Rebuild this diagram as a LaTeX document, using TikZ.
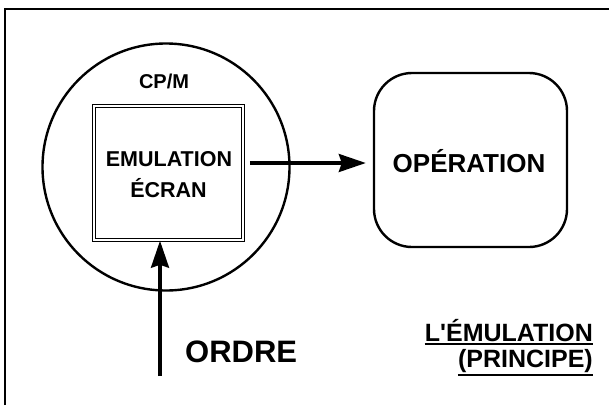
\documentclass[tikz,border=0pt]{standalone}
\usepackage{fontspec}
\setmainfont{Liberation Sans}
\newfontfamily\plainsans{Liberation Sans}
\usetikzlibrary{arrows.meta}
\begin{document}
\begin{tikzpicture}[x=1pt,y=-1pt,
  txt/.style={inner sep=0pt,font=\bfseries},
  conn/.style={line width=3.2pt,-{Stealth[length=27pt,width=18pt,inset=3pt]}},
  ul/.style={line width=2pt}]
\useasboundingbox (0,0) rectangle (609,405);
\fill[white] (0,0) rectangle (609,405);
\draw[line width=1.6pt] (5,405) -- (5,9) -- (609,9);
\node[circle,draw,line width=2.4pt,minimum size=247pt,inner sep=0pt] (cpm) at (166,167) {};
\node[draw,double,double distance=1.6pt,line width=1.5pt,minimum width=149pt,minimum height=134pt,inner sep=0pt] (emu) at (168.5,173) {};
\node[txt,anchor=base,font=\bfseries\fontsize{20}{24}\selectfont] (cpmlabel) at (164,88) {CP/M};
\node[txt,anchor=base,font=\bfseries\fontsize{21.5}{26}\selectfont] (emu1) at (169,166) {EMULATION};
\node[txt,anchor=base,font=\bfseries\fontsize{21.5}{26}\selectfont] (emu2) at (168.5,197) {ÉCRAN};
\node[draw,rounded corners=38pt,line width=2.4pt,minimum width=193pt,minimum height=174pt,inner sep=0pt] (op) at (470.5,160) {};
\node[txt,anchor=base,font=\bfseries\fontsize{26}{30}\selectfont] (oplabel) at (469,172) {OPÉRATION};
\coordinate (ordstart) at (160,376);
\node[txt,anchor=base west,font=\bfseries\fontsize{31}{36}\selectfont] (ordre) at (185,362) {ORDRE};
\node[txt,anchor=base east,font=\plainsans\bfseries\fontsize{25}{30}\selectfont] (t1) at (593,341) {L'ÉMULATION};
\node[txt,anchor=base east,font=\bfseries\fontsize{25}{30}\selectfont] (t2) at (593,367) {(PRINCIPE)};
\draw[ul] ([yshift=-2.5pt]t1.south west) -- ([yshift=-2.5pt]t1.south east);
\draw[ul] ([yshift=-2.5pt]t2.south west) -- ([yshift=-2.5pt]t2.south east);
\draw[conn,shorten <=6pt,shorten >=7pt] (emu.east |- op.center) ++(0,3) coordinate (astart) -- (op.west |- astart);
\draw[conn] (ordstart) -- (emu.south -| ordstart);
\end{tikzpicture}
\end{document}
